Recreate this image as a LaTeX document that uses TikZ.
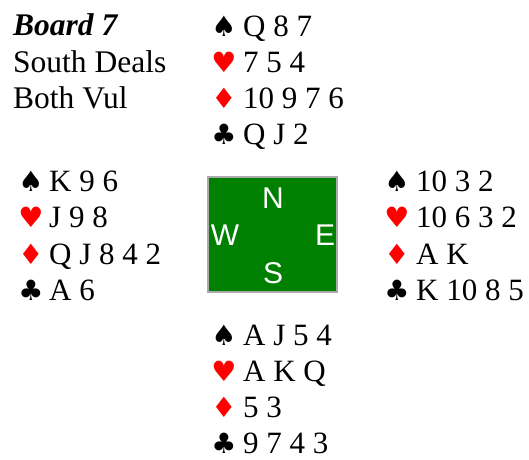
\documentclass[tikz,border=0pt]{standalone}
\usepackage{fontspec}
\setmainfont{Liberation Serif}
\newfontfamily\suitfont{DejaVu Sans}
\newfontfamily\arialfont{Liberation Sans}
\definecolor{feltgreen}{RGB}{0,128,0}
\definecolor{suitred}{RGB}{255,0,0}
\definecolor{boxgray}{RGB}{170,170,170}
\tikzset{
  cards/.style={anchor=base west, inner sep=0pt, font=\fontsize{31}{36}\selectfont},
  info/.style={anchor=base west, inner sep=0pt, font=\fontsize{31.5}{36}\selectfont},
  suit/.style={anchor=base, inner sep=0pt, font=\suitfont\fontsize{28}{32}\selectfont},
  redsuit/.style={suit, text=suitred},
  compass/.style={inner sep=0pt, text=white, font=\arialfont\fontsize{30}{34}\selectfont},
  table/.style={fill=feltgreen, draw=boxgray, line width=2pt}
}
\begin{document}
\begin{tikzpicture}[x=1pt,y=-1pt]
\useasboundingbox (0,0) rectangle (529,459);
% info
\node[info, font=\fontsize{31.5}{36}\selectfont\bfseries\itshape] (board) at (13,35) {Board 7};
\node[info] (dealer) at (13,72) {South Deals};
\node[info] (vul) at (13,108) {Both Vul};
% North
\node[suit] (ns) at (224,36) {♠};
\node[redsuit] (nh) at (224,72) {♥};
\node[redsuit] (nd) at (224,108) {♦};
\node[suit] (nc) at (224,144) {♣};
\node[cards] (nst) at (243,36) {Q 8 7};
\node[cards] (nht) at (243,72) {7 5 4};
\node[cards] (ndt) at (243,108) {10 9 7 6};
\node[cards] (nct) at (243,144) {Q J 2};
% West
\node[suit] (ws) at (31,191) {♠};
\node[redsuit] (wh) at (31,227) {♥};
\node[redsuit] (wd) at (31,264) {♦};
\node[suit] (wc) at (31,300) {♣};
\node[cards] (wst) at (49,191) {K 9 6};
\node[cards] (wht) at (49,227) {J 9 8};
\node[cards] (wdt) at (49,264) {Q J 8 4 2};
\node[cards] (wct) at (49,300) {A 6};
% East
\node[suit] (es) at (397,191) {♠};
\node[redsuit] (eh) at (397,227) {♥};
\node[redsuit] (ed) at (397,264) {♦};
\node[suit] (ec) at (397,300) {♣};
\node[cards] (est) at (416,191) {10 3 2};
\node[cards] (eht) at (416,227) {10 6 3 2};
\node[cards] (edt) at (416,264) {A K};
\node[cards] (ect) at (416,300) {K 10 8 5};
% South
\node[suit] (ss) at (224,345) {♠};
\node[redsuit] (sh) at (224,381) {♥};
\node[redsuit] (sd) at (224,417) {♦};
\node[suit] (sc) at (224,453) {♣};
\node[cards] (sst) at (243,345) {A J 5 4};
\node[cards] (sht) at (243,381) {A K Q};
\node[cards] (sdt) at (243,417) {5 3};
\node[cards] (sct) at (243,453) {9 7 4 3};
% table
\path[table] (208,177) rectangle (337,292);
\node[compass] (cn) at (273,198) {N};
\node[compass] (cw) at (225,235) {W};
\node[compass] (ce) at (325,235) {E};
\node[compass] (cs) at (273,273) {S};
\end{tikzpicture}
\end{document}
